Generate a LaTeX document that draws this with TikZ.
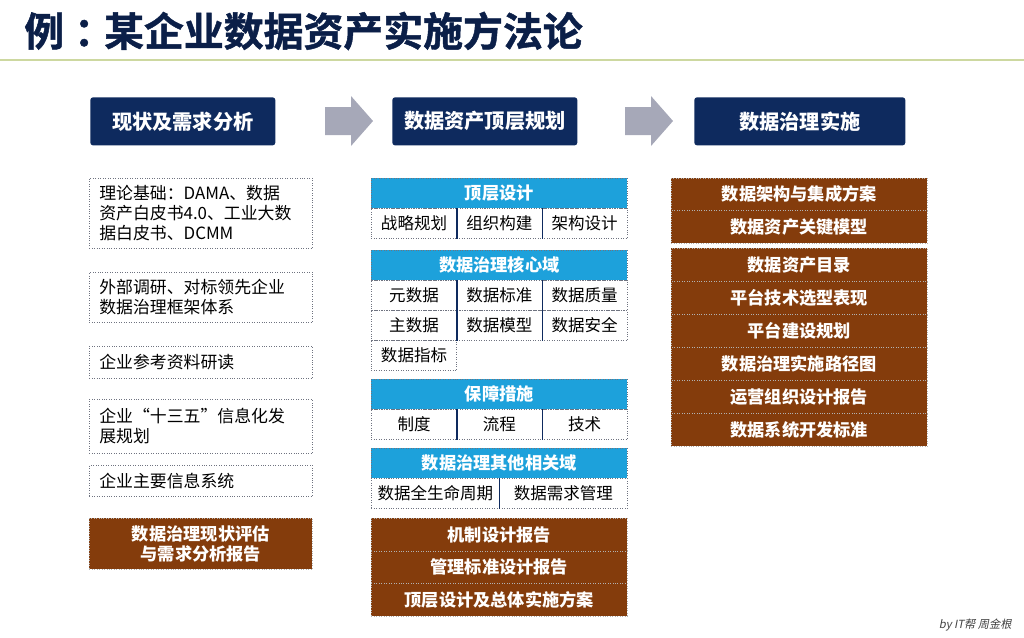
\documentclass[tikz,border=0pt]{standalone}
\usepackage{fontspec}
\setmainfont{Noto Sans CJK SC}
\newfontfamily\signfont[FakeSlant=0.2]{Noto Sans CJK SC}
\newfontfamily\titlefont[FakeBold=1.2]{Noto Sans CJK SC Bold}
\definecolor{titlenavy}{HTML}{0B1F48}
\definecolor{headnavy}{HTML}{0E2A5E}
\definecolor{arrowgray}{HTML}{A6A8B8}
\definecolor{domaincyan}{HTML}{1DA1DB}
\definecolor{reportbrown}{HTML}{843C0C}
\definecolor{ruleolive}{HTML}{CDD8A0}
\definecolor{dotgray}{HTML}{6F7380}

\tikzset{
  headbox/.style={fill=headnavy, text=white, rounded corners=1.5pt,
    anchor=north west, inner sep=0pt, minimum height=0.96cm,
    font=\bfseries\fontsize{11.5}{12}\selectfont},
  notebox/.style={draw=dotgray, densely dotted, anchor=north west,
    align=left, text width=4.06cm, inner xsep=0.2cm, inner ysep=0pt,
    font=\fontsize{9.6}{11.5}\selectfont},
  cyanhead/.style={fill=domaincyan, draw=dotgray, densely dotted,
    text=white, anchor=north west, inner sep=0pt,
    minimum width=5.12cm, minimum height=0.6cm,
    font=\bfseries\fontsize{9.8}{11}\selectfont},
  cellbox/.style={draw=dotgray, densely dotted, anchor=north west,
    inner sep=0pt, minimum width=1.7067cm, minimum height=0.6cm,
    font=\fontsize{9.4}{11}\selectfont},
  reportbox/.style={fill=reportbrown, draw=gray!60, densely dotted,
    text=white, anchor=north west, inner sep=0pt, align=center,
    minimum width=5.12cm,
    font=\bfseries\fontsize{9.8}{11.5}\selectfont},
  divider/.style={headnavy, line width=0.6pt}
}

\begin{document}
\begin{tikzpicture}[x=0.02cm,y=-0.02cm]
\useasboundingbox (0,0) rectangle (1024,637);

% Title and rule
\node[anchor=west, text=titlenavy, inner sep=0pt,
  font=\titlefont\fontsize{22.7}{24}\selectfont]
  (title) at (24,31) {例\kern0.25em：\kern-0.25em某企业数据资产实施方法论};
\draw[ruleolive, line width=1.2pt] (0,60) -- (1024,60);

% Three phases
\node[headbox, minimum width=3.7cm] (phaseA) at (90,97) {现状及需求分析};
\node[headbox, minimum width=3.7cm] (phaseB) at (392,97) {数据资产顶层规划};
\node[headbox, minimum width=4.22cm] (phaseC) at (694,97) {数据治理实施};

% Gray block arrows between phases
\fill[arrowgray]
  (325,107) -- (351,107) -- (351,96) -- (373,121)
  -- (351,146) -- (351,135) -- (325,135) -- cycle;
\fill[arrowgray]
  (625,107) -- (651,107) -- (651,96) -- (673,121)
  -- (651,146) -- (651,135) -- (625,135) -- cycle;

% Left column: inputs
\node[notebox, minimum height=1.4cm] (theory) at (89,178)
  {理论基础：DAMA、数据\\资产白皮书4.0、工业大数\\据白皮书、DCMM};
\node[notebox, minimum height=1.0cm] (survey) at (89,272)
  {外部调研、对标领先企业\\数据治理框架体系};
\node[notebox, minimum height=0.64cm] (reading) at (89,346)
  {企业参考资料研读};
\node[notebox, minimum height=1.08cm] (plan) at (89,399)
  {企业“十三五”信息化发\\展规划};
\node[notebox, minimum height=0.62cm] (systems) at (89,465)
  {企业主要信息系统};
\node[reportbox, minimum width=4.46cm, minimum height=1.02cm] (statusrep)
  at (89,518) {数据治理现状评估\\与需求分析报告};

% Middle column: top level design
\node[cyanhead] (topdesign) at (371,178) {顶层设计};
\node[cellbox] (strategy) at (371,208) {战略规划};
\node[cellbox] (organize) at (456.33,208) {组织构建};
\node[cellbox] (archi) at (541.67,208) {架构设计};

% Core domains
\node[cyanhead] (coredom) at (371,250) {数据治理核心域};
\node[cellbox] (meta) at (371,280) {元数据};
\node[cellbox] (standard) at (456.33,280) {数据标准};
\node[cellbox] (quality) at (541.67,280) {数据质量};
\node[cellbox] (master) at (371,310) {主数据};
\node[cellbox] (model) at (456.33,310) {数据模型};
\node[cellbox] (security) at (541.67,310) {数据安全};
\node[cellbox] (indicator) at (371,340) {数据指标};

% Safeguards
\node[cyanhead] (safeguard) at (371,379) {保障措施};
\node[cellbox] (rules) at (371,409) {制度};
\node[cellbox] (process) at (456.33,409) {流程};
\node[cellbox] (tech) at (541.67,409) {技术};

% Other domains
\node[cyanhead] (otherdom) at (371,448) {数据治理其他相关域};
\node[cellbox, minimum width=2.56cm] (lifecycle) at (371,478) {数据全生命周期};
\node[cellbox, minimum width=2.56cm] (demand) at (499,478) {数据需求管理};

% Dividers between cells
\draw[divider] (strategy.north east) -- (strategy.south east);
\draw[divider] (organize.north east) -- (organize.south east);
\draw[divider] (meta.north east) -- (meta.south east);
\draw[divider] (standard.north east) -- (standard.south east);
\draw[divider] (master.north east) -- (master.south east);
\draw[divider] (model.north east) -- (model.south east);
\draw[divider] (rules.north east) -- (rules.south east);
\draw[divider] (process.north east) -- (process.south east);
\draw[divider] (lifecycle.north east) -- (lifecycle.south east);

% Middle column reports
\node[reportbox, minimum height=0.65cm] (mechrep) at (371,518) {机制设计报告};
\node[reportbox, minimum height=0.65cm] (stdrep) at (371,550.5) {管理标准设计报告};
\node[reportbox, minimum height=0.65cm] (toprep) at (371,583) {顶层设计及总体实施方案};

% Right column: implementation outputs
\node[reportbox, minimum height=0.64cm] (integ) at (671,178) {数据架构与集成方案};
\node[reportbox, minimum height=0.66cm] (keymodel) at (671,210) {数据资产关键模型};
\node[reportbox, minimum height=0.66cm] (catalog) at (671,248) {数据资产目录};
\node[reportbox, minimum height=0.66cm] (platsel) at (671,281) {平台技术选型表现};
\node[reportbox, minimum height=0.66cm] (platplan) at (671,314) {平台建设规划};
\node[reportbox, minimum height=0.66cm] (roadmap) at (671,347) {数据治理实施路径图};
\node[reportbox, minimum height=0.66cm] (operrep) at (671,380) {运营组织设计报告};
\node[reportbox, minimum height=0.66cm] (devstd) at (671,413) {数据系统开发标准};

% Signature
\node[anchor=east, text=black!75, inner sep=0pt,
  font=\signfont\fontsize{6.4}{7}\selectfont]
  (sign) at (1012,625) {by IT帮 周金根};

\end{tikzpicture}
\end{document}
